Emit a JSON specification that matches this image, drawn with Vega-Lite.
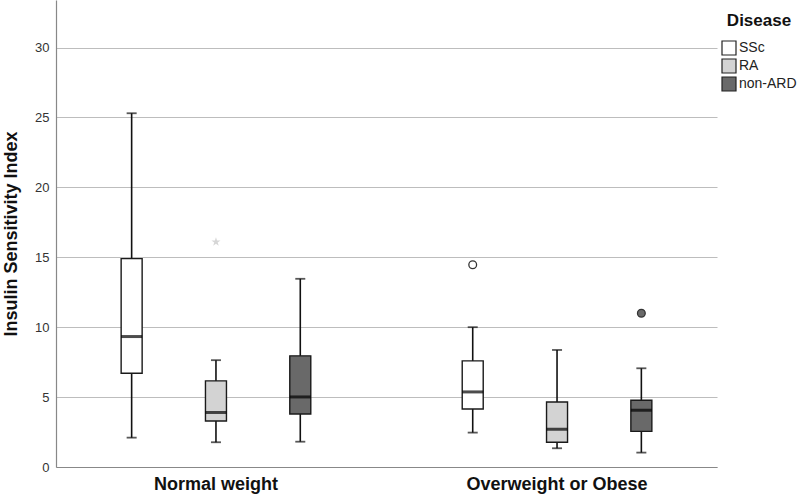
{
  "$schema": "https://vega.github.io/schema/vega-lite/v6.json",
  "width": 661,
  "height": 467,
  "autosize": {"type": "none"},
  "padding": {"left": 56, "top": 0, "right": 83, "bottom": 31},
  "background": "white",
  "config": {
    "font": "Liberation Sans",
    "view": {"stroke": null}
  },
  "datasets": {
    "boxes": [
      {"group": "Normal weight", "disease": "SSc", "lower": 2.1, "q1": 6.7, "median": 9.33, "q3": 14.9, "upper": 25.3},
      {"group": "Normal weight", "disease": "RA", "lower": 1.77, "q1": 3.29, "median": 3.9, "q3": 6.16, "upper": 7.64},
      {"group": "Normal weight", "disease": "non-ARD", "lower": 1.81, "q1": 3.79, "median": 5.01, "q3": 7.95, "upper": 13.46},
      {"group": "Overweight or Obese", "disease": "SSc", "lower": 2.46, "q1": 4.15, "median": 5.37, "q3": 7.59, "upper": 10.0},
      {"group": "Overweight or Obese", "disease": "RA", "lower": 1.34, "q1": 1.77, "median": 2.7, "q3": 4.65, "upper": 8.37},
      {"group": "Overweight or Obese", "disease": "non-ARD", "lower": 1.03, "q1": 2.55, "median": 4.06, "q3": 4.77, "upper": 7.06}
    ],
    "outliers": [
      {"group": "Normal weight", "disease": "RA", "value": 16.1},
      {"group": "Overweight or Obese", "disease": "SSc", "value": 14.46},
      {"group": "Overweight or Obese", "disease": "non-ARD", "value": 11.0}
    ]
  },
  "encoding": {
    "x": {
      "field": "group", "type": "nominal", "sort": ["Normal weight", "Overweight or Obese"],
      "scale": {"paddingInner": 0.2, "paddingOuter": 0.069},
      "axis": {
        "title": null, "ticks": false, "labelAngle": 0, "labelLimit": 0,
        "labelFont": "Liberation Sans", "labelFontSize": 18, "labelFontWeight": "bold",
        "labelColor": "#111", "labelPadding": 8,
        "domainColor": "#888", "domainWidth": 1.2
      }
    },
    "xOffset": {
      "field": "disease", "type": "nominal", "sort": ["SSc", "RA", "non-ARD"],
      "scale": {"paddingInner": 0, "paddingOuter": 0.118}
    }
  },
  "layer": [
    {
      "data": {"name": "boxes"},
      "mark": {"type": "rule", "color": "#111", "strokeWidth": 1.6},
      "encoding": {
        "y": {
          "field": "lower", "type": "quantitative",
          "scale": {"domain": [0, 33.4], "nice": false, "zero": true},
          "axis": {
            "title": "Insulin Sensitivity Index",
            "titleFont": "Liberation Sans", "titleFontSize": 18, "titleFontWeight": "bold",
            "titleColor": "#111", "titlePadding": 14,
            "values": [0, 5, 10, 15, 20, 25, 30],
            "ticks": false, "labelPadding": 7,
            "labelFont": "Liberation Sans", "labelFontSize": 13, "labelColor": "#333",
            "domainColor": "#888", "domainWidth": 1.2,
            "grid": true, "gridColor": "#bdbdbd", "gridWidth": 1.2
          }
        },
        "y2": {"field": "upper"}
      }
    },
    {
      "data": {"name": "boxes"},
      "mark": {"type": "bar", "width": 21, "stroke": "#1a1a1a", "strokeWidth": 1.4},
      "encoding": {
        "y": {"field": "q1", "type": "quantitative"},
        "y2": {"field": "q3"},
        "fill": {
          "field": "disease", "type": "nominal", "sort": ["SSc", "RA", "non-ARD"],
          "scale": {"domain": ["SSc", "RA", "non-ARD"], "range": ["#ffffff", "#d3d3d3", "#696969"]},
          "legend": {
            "title": "Disease", "orient": "none", "legendX": 665, "legendY": 13,
            "titleFont": "Liberation Sans", "titleFontSize": 17, "titleFontWeight": "bold", "titleColor": "#111",
            "titleAnchor": "middle", "titlePadding": 10,
            "labelFont": "Liberation Sans", "labelFontSize": 14, "labelColor": "#222", "labelOffset": 2,
            "symbolType": "square", "symbolSize": 196, "symbolStrokeColor": "#222", "symbolStrokeWidth": 1.2,
            "rowPadding": -2
          }
        }
      }
    },
    {
      "data": {"name": "boxes"},
      "mark": {"type": "tick", "size": 21, "thickness": 3, "color": "#000"},
      "encoding": {"y": {"field": "median", "type": "quantitative"}}
    },
    {
      "data": {"name": "boxes"},
      "mark": {"type": "tick", "size": 10, "thickness": 1.8, "color": "#111"},
      "encoding": {"y": {"field": "upper", "type": "quantitative"}}
    },
    {
      "data": {"name": "boxes"},
      "mark": {"type": "tick", "size": 10, "thickness": 1.8, "color": "#111"},
      "encoding": {"y": {"field": "lower", "type": "quantitative"}}
    },
    {
      "data": {"name": "outliers"},
      "transform": [{"filter": "datum.disease === 'RA'"}],
      "mark": {"type": "point", "filled": true, "color": "#c4c4c4", "size": 90,
               "shape": "M0,-1L0.224,-0.309L0.951,-0.309L0.363,0.118L0.588,0.809L0,0.382L-0.588,0.809L-0.363,0.118L-0.951,-0.309L-0.224,-0.309Z"},
      "encoding": {"y": {"field": "value", "type": "quantitative"}}
    },
    {
      "data": {"name": "outliers"},
      "transform": [{"filter": "datum.disease === 'SSc'"}],
      "mark": {"type": "point", "shape": "circle", "filled": false, "fill": "#ffffff", "stroke": "#333", "strokeWidth": 1.3, "size": 60, "opacity": 1},
      "encoding": {"y": {"field": "value", "type": "quantitative"}}
    },
    {
      "data": {"name": "outliers"},
      "transform": [{"filter": "datum.disease === 'non-ARD'"}],
      "mark": {"type": "point", "shape": "circle", "filled": true, "fill": "#696969", "stroke": "#333", "strokeWidth": 1.3, "size": 60, "opacity": 1},
      "encoding": {"y": {"field": "value", "type": "quantitative"}}
    }
  ]
}
